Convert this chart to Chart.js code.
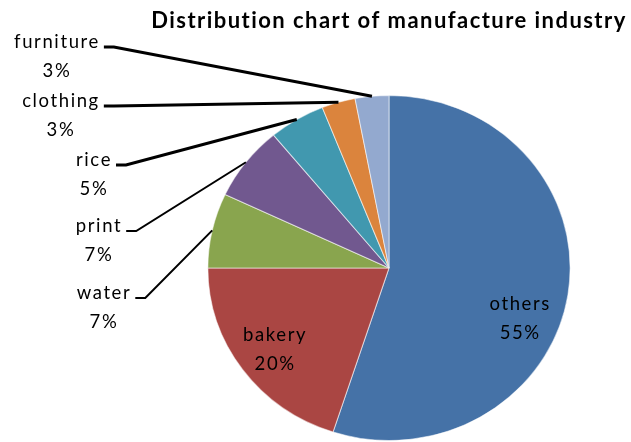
<!DOCTYPE html>
<html>
<head>
<meta charset="utf-8">
<script src="https://cdn.jsdelivr.net/npm/chart.js@4.4.1/dist/chart.umd.min.js"></script>
<style>
  html, body { margin: 0; padding: 0; background: #fff; }
  #wrap { width: 631px; height: 442px; }
</style>
</head>
<body>
<div id="wrap"><canvas id="pie"></canvas></div>
<script>
// industry categories and their share (%), clockwise from 12 o'clock
const industries = ['others', 'bakery', 'water', 'print', 'rice', 'clothing', 'furniture'];
const shares = [55, 20, 7, 7, 5, 3, 3];
const sliceColors = ['#4572A7', '#AA4643', '#89A54E', '#71588F', '#4198AF', '#DB843D', '#93A9CF'];

const chartTitle = 'Distribution chart of manufacture industry';
const fontStack = 'Lato, "Open Sans", sans-serif';

// the excel pie is a little wider than it is tall
const stretchX = 1.05;

// where the small slices put their labels (left column, with leader lines)
const outsideSpots = {
  furniture: { x: 57, y: 42, lw: 3 },
  clothing: { x: 61, y: 101, lw: 3 },
  rice: { x: 94, y: 160, lw: 3 },
  print: { x: 99, y: 226, lw: 2 },
  water: { x: 104, y: 293, lw: 2 }
};
// tweak for the big labels inside the pie
const insideNudge = {
  others: { dx: -3, dy: 30 },
  bakery: { dx: -4, dy: 5 }
};

function writeLabel(ctx, name, pct, cx, cy) {
  ctx.fillText(name, cx, cy - 14.5);
  ctx.fillText(pct + '%', cx, cy + 14.5);
}

const pieLabels = {
  id: 'pieLabels',
  beforeDatasetsDraw(chart) {
    const ctx = chart.ctx;
    const arc = chart.getDatasetMeta(0).data[0];
    ctx.save();
    ctx.translate(arc.x, arc.y);
    ctx.scale(stretchX, 1);
    ctx.translate(-arc.x, -arc.y);
  },
  afterDatasetsDraw(chart) {
    const ctx = chart.ctx;
    ctx.restore();

    const arcs = chart.getDatasetMeta(0).data;
    ctx.save();
    ctx.font = '18.5px ' + fontStack;
    ctx.letterSpacing = '1.6px';
    ctx.fillStyle = '#000';
    ctx.textBaseline = 'middle';
    arcs.forEach((a, i) => {
      const name = industries[i];
      const mid = (a.startAngle + a.endAngle) / 2;
      const R = a.outerRadius;
      if (outsideSpots[name]) {
        const s = outsideSpots[name];
        ctx.textAlign = 'center';
        ctx.fillText(name, s.x, s.y);
        ctx.fillText(shares[i] + '%', s.x, s.y + 29);
        const right = s.x + ctx.measureText(name).width / 2;
        const ex = a.x + Math.cos(mid) * R * stretchX;
        const ey = a.y + Math.sin(mid) * R;
        ctx.beginPath();
        ctx.strokeStyle = '#000';
        ctx.lineWidth = s.lw;
        ctx.moveTo(right + 4, s.y + 5);
        ctx.lineTo(right + 14, s.y + 5);
        ctx.lineTo(ex, ey);
        ctx.stroke();
      } else {
        const n = insideNudge[name] || { dx: 0, dy: 0 };
        const px = a.x + Math.cos(mid) * R * 0.75 * stretchX + n.dx;
        const py = a.y + Math.sin(mid) * R * 0.75 + n.dy;
        ctx.textAlign = 'center';
        writeLabel(ctx, name, shares[i], px, py);
      }
    });

    // title, drawn by hand so it is not squeezed into the pie's box
    ctx.font = 'bold 22px ' + fontStack;
    ctx.letterSpacing = '1.45px';
    ctx.textAlign = 'center';
    ctx.textBaseline = 'alphabetic';
    ctx.fillText(chartTitle, 389, 28);
    ctx.restore();
  }
};

new Chart(document.getElementById('pie'), {
  type: 'pie',
  data: {
    labels: industries,
    datasets: [{
      data: shares,
      backgroundColor: sliceColors,
      borderColor: 'rgba(255, 255, 255, 0.55)',
      borderWidth: 1
    }]
  },
  plugins: [pieLabels],
  options: {
    responsive: true,
    maintainAspectRatio: false,
    animation: false,
    events: [],
    radius: 172.5,
    layout: {
      padding: { left: 216.5, right: 69.5, top: 95.5, bottom: 1.5 }
    },
    plugins: {
      legend: { display: false },
      tooltip: { enabled: false },
      title: { display: false }
    }
  }
});
</script>
</body>
</html>
